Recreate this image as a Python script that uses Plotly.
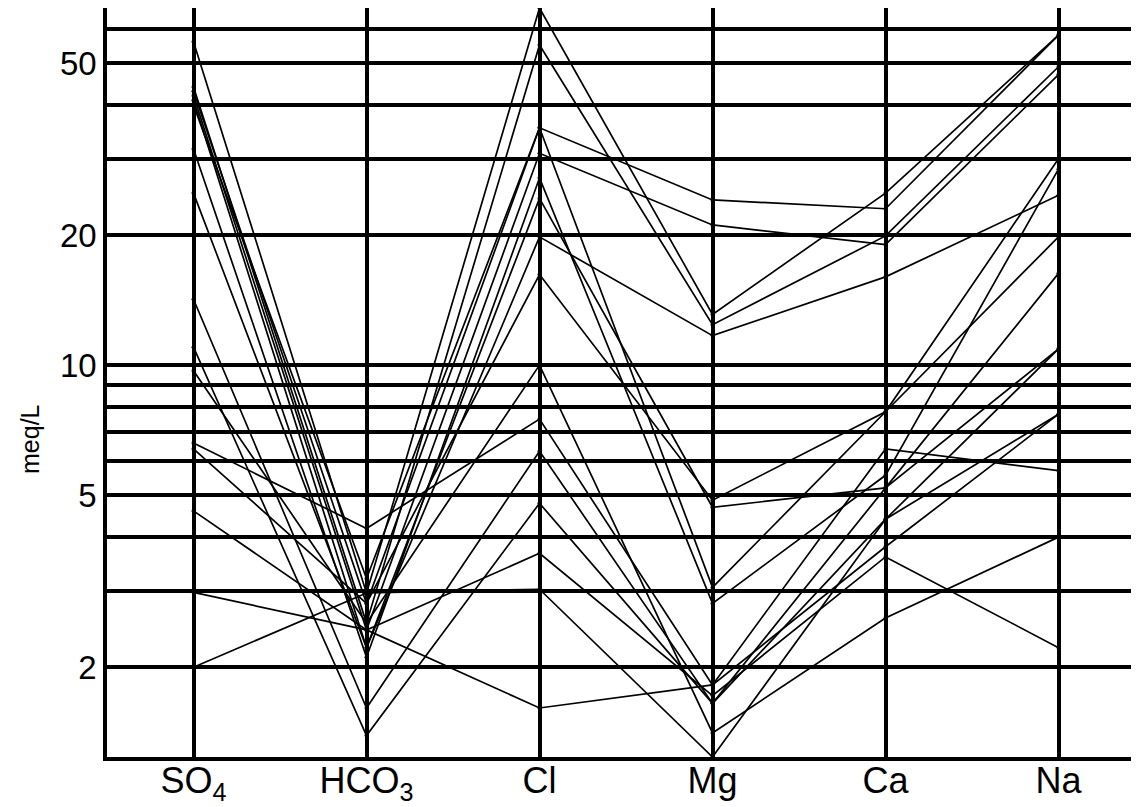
import plotly.graph_objects as go
import numpy as np

ions = ["SO4", "HCO3", "Cl", "Mg", "Ca", "Na"]
ion_labels = ["SO<sub>4</sub>", "HCO<sub>3</sub>", "Cl", "Mg", "Ca", "Na"]

# meq/L per sample (SO4, HCO3, Cl, Mg, Ca, Na)
s01 = [56.0, 2.97, 67.0, 13.1, 25.0, 58.0]
s02 = [44.0, 2.53, 55.0, 12.4, 19.9, 49.0]
s03 = [43.0, 2.81, 35.4, 24.1, 23.0, 58.0]
s04 = [42.0, 2.44, 30.9, 21.1, 19.0, 47.0]
s05 = [41.0, 2.22, 19.8, 11.7, 16.0, 24.7]
s06 = [40.0, 3.21, 35.4, 3.06, 7.8, 19.8]
s07 = [31.6, 2.11, 27.1, 2.81, 5.56, 28.4]
s08 = [25.0, 2.22, 24.3, 4.69, 5.2, 16.3]
s09 = [6.4, 2.81, 16.2, 4.87, 7.8, 30.0]
s10 = [14.2, 1.61, 6.32, 1.65, 5.2, 10.9]
s11 = [11.0, 1.39, 4.79, 1.65, 4.4, 7.7]
s12 = [9.7, 2.53, 10.0, 1.41, 2.6, 4.0]
s13 = [6.6, 4.19, 7.5, 1.82, 6.4, 5.7]
s14 = [4.6, 2.44, 3.67, 1.72, 3.6, 2.22]
s15 = [2.98, 2.44, 1.61, 1.82, 3.8, 7.7]
s16 = [2.0, 2.97, 3.03, 1.24, 4.4, 10.9]

samples = [s01, s02, s03, s04, s05, s06, s07, s08,
           s09, s10, s11, s12, s13, s14, s15, s16]

grid_vals = [2, 3, 4, 5, 6, 7, 8, 9, 10, 20, 30, 40, 50, 60]
grid_text = ["2", "", "", "5", "", "", "", "", "10", "20", "", "", "50", ""]

fig = go.Figure()
for s in samples:
    fig.add_trace(go.Scatter(
        x=list(range(len(ions))), y=s, mode="lines+markers",
        line=dict(color="black", width=1.7),
        marker=dict(color="black", size=4),
        showlegend=False, hoverinfo="skip"))

allv = [v for s in samples for v in s]
ymin, ymax = np.log10(min(allv)), np.log10(max(allv))

# page has an 8px body margin; figure is sized so the plot lands where the reference has it
PW, PH = 1032, 749
fig.update_layout(
    width=1131, height=799,
    margin=dict(l=99, r=0, t=0, b=50, autoexpand=False),
    paper_bgcolor="white", plot_bgcolor="white",
    font=dict(family="Liberation Sans, Arial, sans-serif", color="black"),
    xaxis=dict(
        range=[-0.5, -0.5 + PW / 173.0],
        tickmode="array", tickvals=list(range(len(ions))), ticktext=ion_labels,
        showgrid=True, gridcolor="black", gridwidth=3.5,
        showline=True, linecolor="black", linewidth=3.5, mirror=True,
        ticks="", tickfont=dict(size=36), zeroline=False,
        ticklabelstandoff=-11,
    ),
    yaxis=dict(
        type="log", range=[ymin, ymax],
        tickmode="array", tickvals=grid_vals, ticktext=grid_text,
        showgrid=True, gridcolor="black", gridwidth=3.5,
        showline=True, linecolor="black", linewidth=3.5,
        ticks="", tickfont=dict(size=33), zeroline=False,
    ),
)
fig.add_annotation(text="meq/L", xref="paper", yref="paper",
                   x=-(99 - 22) / PW, y=(749 - 431) / PH,
                   showarrow=False, textangle=-90, font=dict(size=25),
                   xanchor="center", yanchor="middle")
fig.write_html("out.html")
